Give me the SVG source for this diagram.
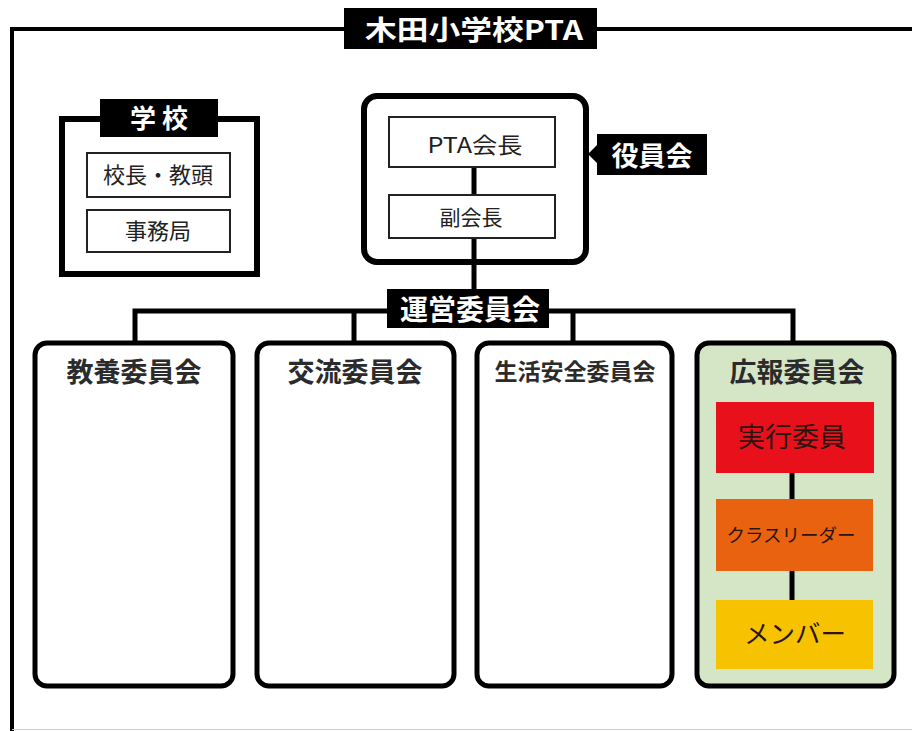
<svg xmlns="http://www.w3.org/2000/svg" width="912" height="731" viewBox="0 0 912 731">
<style>
.frame{fill:none;stroke:#000;stroke-width:4}
.thick{fill:#fff;stroke:#000;stroke-width:6}
.thin{fill:#fff;stroke:#222;stroke-width:2}
.comm{fill:#fff;stroke:#000;stroke-width:5}
.conn{fill:none;stroke:#000;stroke-width:5}
.lab{fill:#000}
.wt{fill:#fff;font-family:"Noto Sans CJK JP","Noto Sans",sans-serif;font-weight:700;text-anchor:middle}
.bt{fill:#2b2b2b;font-family:"Noto Sans CJK JP","Noto Sans",sans-serif;font-weight:700;text-anchor:middle}
.nt{fill:#222;font-family:"Noto Sans CJK JP","Noto Sans",sans-serif;font-weight:400;text-anchor:middle}
.dt{fill:#2a1410;font-family:"Noto Sans CJK JP","Noto Sans",sans-serif;font-weight:400;text-anchor:middle}
</style>
<rect x="0" y="0" width="912" height="731" fill="#fff"/>
<g id="frame">
<path class="frame" d="M12 731 V29 H912"/>
<line x1="12" y1="729.5" x2="912" y2="729.5" stroke="#cfcfcf" stroke-width="1"/>
<rect class="lab" x="344" y="8" width="253" height="41"/>
<text class="wt" x="474" y="40" font-size="27" textLength="218" lengthAdjust="spacingAndGlyphs">木田小学校PTA</text>
</g>
<g id="school">
<rect class="thick" x="62" y="119" width="195" height="155"/>
<rect class="lab" x="100" y="99" width="118" height="38"/>
<text class="wt" x="159" y="128" font-size="26">学 校</text>
<g id="principal">
<rect class="thin" x="87" y="153" width="143" height="44"/>
<text class="nt" x="158" y="183" font-size="22">校長・教頭</text>
</g>
<g id="office">
<rect class="thin" x="87" y="210" width="143" height="42"/>
<text class="nt" x="158" y="239" font-size="22">事務局</text>
</g>
</g>
<g id="officers">
<rect class="thick" x="364" y="96" width="222" height="166" rx="13"/>
<path class="lab" d="M597 134 H707 V175 H597 V163 L588 154 L597 145 Z"/>
<text class="wt" x="652" y="166" font-size="27">役員会</text>
<g id="president">
<rect class="thin" x="389" y="117" width="166" height="50"/>
<text class="nt" x="475" y="153" font-size="22" textLength="95" lengthAdjust="spacingAndGlyphs">PTA会長</text>
</g>
<g id="vice">
<rect class="thin" x="389" y="195" width="166" height="43"/>
<text class="nt" x="471" y="225" font-size="21">副会長</text>
</g>
</g>
<g id="kyoyo">
<rect class="comm" x="35" y="343" width="198" height="343" rx="12"/>
<text class="bt" x="134" y="382" font-size="27">教養委員会</text>
</g>
<g id="koryu">
<rect class="comm" x="257" y="343" width="197" height="343" rx="12"/>
<text class="bt" x="355" y="382" font-size="27">交流委員会</text>
</g>
<g id="seikatsu">
<rect class="comm" x="477" y="343" width="195" height="343" rx="12"/>
<text class="bt" x="575" y="380" font-size="23">生活安全委員会</text>
</g>
<g id="koho">
<rect class="comm" x="697" y="343" width="197" height="343" rx="12" style="fill:#d5e6c7"/>
<text class="bt" x="797" y="382" font-size="27">広報委員会</text>
<g id="executive">
<rect x="716" y="402" width="158" height="71" fill="#e8111b"/>
<text class="dt" x="792" y="447" font-size="27">実行委員</text>
</g>
<g id="leader">
<rect x="716" y="499" width="157" height="72" fill="#e8620f"/>
<text class="dt" x="791" y="542" font-size="18.5">クラスリーダー</text>
</g>
<g id="member">
<rect x="716" y="600" width="157" height="69" fill="#f7c300"/>
<text class="dt" x="795" y="643" font-size="25.5">メンバー</text>
</g>
</g>
<g id="connectors">
<line class="conn" x1="474" y1="168" x2="474" y2="194"/>
<line class="conn" x1="474" y1="239" x2="474" y2="290"/>
<polyline class="conn" points="135,341 135,311 793,311 793,341"/>
<line class="conn" x1="354" y1="311" x2="354" y2="341"/>
<line class="conn" x1="573" y1="311" x2="573" y2="341"/>
<line class="conn" x1="792" y1="473" x2="792" y2="499"/>
<line class="conn" x1="792" y1="571" x2="792" y2="600"/>
</g>
<g id="steering">
<rect class="lab" x="387" y="289" width="162" height="39"/>
<text class="wt" x="470" y="320" font-size="28">運営委員会</text>
</g>
</svg>
